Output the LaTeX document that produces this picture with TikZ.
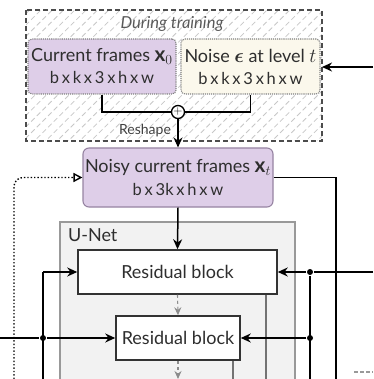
\documentclass[tikz,border=0pt]{standalone}
\usepackage{amsmath,amssymb,bm}
\usepackage{fontspec}
\setmainfont{Lato}
\usepackage{tikz}
\usetikzlibrary{arrows.meta,patterns.meta,positioning,calc}
\definecolor{framepurple}{RGB}{222,206,232}
\definecolor{framedraw}{RGB}{150,132,162}
\definecolor{noisecream}{RGB}{251,248,236}
\definecolor{unetgrey}{RGB}{242,242,242}
\newcommand{\dimsz}{\fontsize{16.5}{18}\selectfont}
\newcommand{\bigmath}[1]{\scalebox{1.15}{$#1$}}
\tikzset{arr/.style={-{Stealth[length=10pt,width=9pt]}}}

\begin{document}
\begin{tikzpicture}[x=1pt,y=-1pt,line width=1.5pt,font=\fontsize{18}{21}\selectfont,text=black!82]

\tikzset{inbox/.style={draw=gray,densely dotted,line width=1.1pt,rounded corners=4pt,align=center,inner sep=0pt,minimum height=55pt},
resbox/.style={draw=black!80,fill=white,line width=1.5pt,inner sep=0pt,minimum height=44pt},
dotnode/.style={circle,fill=black,inner sep=0pt,minimum size=6pt}}

\clip (0,0) rectangle (373,379);

% During training
\draw[black!70,dashed,line width=1.3pt,dash pattern=on 5pt off 3pt,
  pattern={Lines[angle=45,distance=8pt,line width=0.8pt]},pattern color=black!22]
  (26,10) rectangle (322,141);
\node[font=\fontsize{16.5}{18}\selectfont\itshape,text=black!65] (train) at (172,24) {During training};
\node[inbox,fill=framepurple,minimum width=148pt] (cur) at (102,66.5)
  {Current frames \bigmath{\mathbf{x}_0}\\[1pt]{\dimsz b\,x\,k\,x\,3\,x\,h\,x\,w}};
\node[inbox,fill=noisecream,minimum width=139pt] (noise) at (250.5,66.5)
  {Noise \bigmath{\bm{\epsilon}} at level \bigmath{t}\\[1pt]{\dimsz b\,x\,k\,x\,3\,x\,h\,x\,w}};
\node[circle,draw,fill=white,line width=1.3pt,inner sep=0pt,minimum size=13pt,font=\fontsize{13}{13}\selectfont,text=black] (plus) at (178,112) {$+$};
\coordinate (trainIn) at (373,67);
\coordinate (trainR) at (322,67);
\draw[arr] (trainIn) -- (trainR);
\draw (cur.south) |- (plus.west);
\draw (noise.south) |- (plus.east);

% Noisy frames
\node[draw=framedraw,fill=framepurple,rounded corners=6pt,line width=1.1pt,align=center,
  minimum width=190pt,minimum height=59pt,inner sep=0pt] (noisy) at (178,177.5)
  {Noisy current frames \bigmath{\mathbf{x}_t}\\[2pt]{\dimsz b\,x\,3k\,x\,h\,x\,w}};
\draw[arr] (plus.south) -- (noisy.north);
\node[anchor=east,font=\fontsize{14}{16}\selectfont,text=black!75] (reshape) at (175,131) {Reshape};

% U-Net
\draw[draw=black!40,fill=unetgrey,line width=1.1pt] (60,222) rectangle (295,400);
\node[anchor=west,font=\fontsize{18}{20}\selectfont] (unet) at (64,235) {U-Net};
\node[resbox,minimum width=199pt] (res1) at (177.5,272) {Residual block};
\node[resbox,minimum width=124pt] (res2) at (178,338) {Residual block};
\draw[arr] (noisy.south) -- (res1.north);
\draw[black!45,dashed,line width=1.1pt,-{Stealth[length=8pt,width=7pt]}] (res1.south) -- (res2.north);
\coordinate (resOut) at (178,379);
\draw[black!45,dashed,line width=1.1pt,-{Stealth[length=8pt,width=7pt]}] (res2.south) -- (resOut);
\coordinate (skipA) at (266,379);
\coordinate (skipB) at (233,379);
\draw[black!55,line width=1.1pt] (res1.south -| skipA) -- (skipA);
\draw[black!55,line width=1.1pt] (res2.south -| skipB) -- (skipB);

% Noisy frames down the right
\coordinate (noisyR) at (336,177.5);
\coordinate (noisyDown) at (336,379);
\draw (noisy.east) -- (noisyR) -- (noisyDown);

% Conditioning from the right
\coordinate (condIn) at (373,272);
\node[dotnode] (dr1) at (310,272) {};
\node[dotnode] (dr2) at (310,338) {};
\coordinate (condDown) at (310,379);
\draw (condIn) -- (dr1);
\draw[arr] (dr1) -- (res1.east);
\draw[arr] (dr2) -- (res2.east);
\draw (dr1) -- (condDown);

% Conditioning from the left
\coordinate (embIn) at (0,338);
\node[dotnode] (dl) at (43,338) {};
\coordinate (dlTop) at (43,272);
\coordinate (dlDown) at (43,379);
\draw (embIn) -- (dl);
\draw[arr] (dl) -- (res2.west);
\draw (dlDown) -- (dlTop);
\draw[arr] (dlTop) -- (res1.west);

% Sampling loop
\coordinate (loopIn) at (14,379);
\draw[dotted,line width=1.4pt,rounded corners=9pt,-{Triangle[open,length=9pt,width=9pt]}] (loopIn) |- (noisy.west);

% Next box, cut off
\coordinate (nextA) at (354,372);
\coordinate (nextB) at (373,372);
\draw[black!40,dashed,line width=1.3pt,dash pattern=on 4pt off 2pt] (nextA) -- (nextB);

\end{tikzpicture}
\end{document}
